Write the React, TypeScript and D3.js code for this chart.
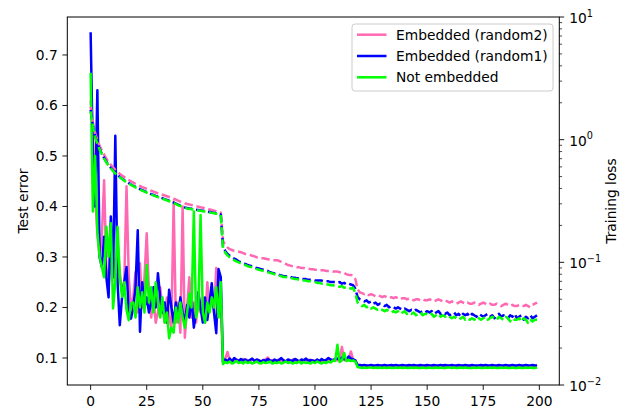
import React from "react";
import * as d3 from "d3";

// ---- DATA (rows of 10 epochs) ----
const seriesLabels = ["Embedded (random2)", "Embedded (random1)", "Not embedded"];
const xTicks = [0, 25, 50, 75, 100, 125, 150, 175, 200];
const leftTicks = [0.1, 0.2, 0.3, 0.4, 0.5, 0.6, 0.7];
const rightTicks = [-2, -1, 0, 1];

// Test error (solid, left axis)
const errR2 = [
  0.61,0.55,0.42,0.347,0.30,0.34,0.452,0.28,0.24,0.31,
  0.30,0.25,0.33,0.27,0.23,0.25,0.44,0.26,0.20,0.22,
  0.27,0.19,0.2875,0.20,0.26,0.347,0.23,0.18,0.22,0.17,
  0.19,0.24,0.20,0.17,0.22,0.18,0.16,0.41,0.17,0.21,
  0.15,0.40,0.14,0.20,0.26,0.18,0.21,0.17,0.23,0.19,
  0.22,0.17,0.25,0.20,0.23,0.19,0.278,0.21,0.20,0.093,
  0.098,0.112,0.094,0.096,0.093,0.097,0.095,0.094,0.098,0.095,
  0.096,0.093,0.097,0.095,0.094,0.096,0.093,0.095,0.097,0.101,
  0.094,0.096,0.093,0.095,0.097,0.094,0.096,0.093,0.095,0.094,
  0.097,0.094,0.095,0.093,0.096,0.094,0.095,0.097,0.093,0.095,
  0.094,0.096,0.093,0.095,0.094,0.096,0.095,0.094,0.097,0.095,
  0.096,0.095,0.122,0.096,0.095,0.098,0.113,0.097,0.095,0.085,
  0.085,0.084,0.085,0.084,0.084,0.085,0.084,0.084,0.085,0.084,
  0.084,0.085,0.084,0.084,0.085,0.084,0.085,0.084,0.084,0.085,
  0.084,0.084,0.085,0.084,0.085,0.084,0.084,0.085,0.084,0.084,
  0.085,0.084,0.084,0.085,0.084,0.084,0.085,0.084,0.085,0.084,
  0.084,0.085,0.084,0.084,0.085,0.084,0.084,0.085,0.084,0.084,
  0.085,0.084,0.084,0.084,0.085,0.084,0.085,0.084,0.084,0.085,
  0.084,0.084,0.085,0.084,0.084,0.085,0.084,0.084,0.085,0.084,
  0.084,0.085,0.084,0.084,0.085,0.084,0.084,0.085,0.084,0.084,
];
const errR1 = [
  0.745,0.50,0.40,0.63,0.30,0.28,0.34,0.26,0.22,0.38,
  0.26,0.54,0.25,0.165,0.22,0.25,0.28,0.19,0.178,0.20,
  0.24,0.353,0.152,0.25,0.20,0.22,0.19,0.21,0.24,0.20,
  0.268,0.22,0.19,0.21,0.17,0.235,0.20,0.17,0.21,0.18,
  0.22,0.19,0.17,0.205,0.18,0.22,0.16,0.19,0.23,0.20,
  0.17,0.22,0.175,0.21,0.248,0.19,0.149,0.276,0.26,0.092,
  0.097,0.094,0.099,0.093,0.100,0.096,0.094,0.098,0.095,0.097,
  0.093,0.096,0.099,0.094,0.097,0.095,0.093,0.096,0.094,0.098,
  0.095,0.093,0.097,0.094,0.096,0.100,0.095,0.093,0.097,0.095,
  0.094,0.098,0.096,0.093,0.097,0.095,0.099,0.094,0.096,0.095,
  0.093,0.097,0.094,0.098,0.095,0.096,0.100,0.097,0.095,0.098,
  0.099,0.096,0.101,0.098,0.097,0.103,0.099,0.097,0.095,0.086,
  0.086,0.085,0.086,0.085,0.085,0.086,0.085,0.085,0.086,0.085,
  0.085,0.086,0.085,0.085,0.086,0.085,0.086,0.085,0.085,0.086,
  0.085,0.085,0.086,0.085,0.086,0.085,0.085,0.086,0.085,0.085,
  0.086,0.085,0.085,0.086,0.085,0.085,0.086,0.085,0.086,0.085,
  0.085,0.086,0.085,0.085,0.086,0.085,0.085,0.086,0.085,0.085,
  0.086,0.085,0.085,0.085,0.086,0.085,0.086,0.085,0.085,0.086,
  0.085,0.085,0.086,0.085,0.085,0.086,0.085,0.085,0.086,0.085,
  0.085,0.086,0.085,0.085,0.086,0.085,0.085,0.086,0.085,0.085,
];
const errNE = [
  0.665,0.39,0.50,0.35,0.30,0.28,0.26,0.36,0.30,0.367,
  0.198,0.25,0.36,0.26,0.221,0.25,0.195,0.175,0.208,0.21,
  0.18,0.24,0.20,0.23,0.19,0.284,0.21,0.24,0.19,0.25,
  0.21,0.18,0.22,0.17,0.19,0.139,0.16,0.15,0.20,0.17,
  0.21,0.18,0.16,0.19,0.227,0.20,0.39,0.18,0.20,0.383,
  0.19,0.17,0.21,0.19,0.22,0.20,0.24,0.18,0.25,0.088,
  0.092,0.090,0.093,0.089,0.091,0.094,0.090,0.092,0.089,0.093,
  0.090,0.092,0.089,0.091,0.093,0.090,0.089,0.092,0.090,0.091,
  0.093,0.089,0.091,0.090,0.092,0.089,0.091,0.093,0.090,0.092,
  0.089,0.091,0.090,0.093,0.089,0.092,0.090,0.091,0.089,0.092,
  0.090,0.093,0.091,0.089,0.092,0.090,0.093,0.091,0.095,0.094,
  0.126,0.092,0.095,0.110,0.094,0.096,0.094,0.095,0.093,0.082,
  0.081,0.080,0.081,0.080,0.081,0.081,0.080,0.081,0.080,0.081,
  0.080,0.081,0.080,0.081,0.080,0.080,0.081,0.080,0.081,0.080,
  0.081,0.080,0.080,0.081,0.080,0.081,0.080,0.080,0.081,0.080,
  0.080,0.081,0.080,0.080,0.081,0.080,0.081,0.080,0.080,0.081,
  0.081,0.080,0.081,0.080,0.080,0.081,0.080,0.081,0.080,0.080,
  0.080,0.081,0.080,0.081,0.080,0.080,0.081,0.080,0.081,0.080,
  0.081,0.080,0.080,0.081,0.080,0.081,0.080,0.080,0.081,0.080,
  0.080,0.081,0.080,0.080,0.081,0.080,0.081,0.080,0.080,0.081,
];

// Training loss (dashed, right log axis)
const lossR2 = [
  1.85,1.38,1.13,1.00,0.89,0.82,0.755,0.70,0.66,0.625,
  0.595,0.568,0.546,0.527,0.51,0.495,0.481,0.469,0.457,0.447,
  0.437,0.428,0.419,0.411,0.404,0.397,0.39,0.383,0.377,0.371,
  0.366,0.361,0.356,0.351,0.346,0.341,0.336,0.33,0.324,0.318,
  0.313,0.308,0.303,0.299,0.296,0.293,0.29,0.287,0.284,0.281,
  0.279,0.276,0.273,0.27,0.267,0.264,0.261,0.258,0.255,0.15,
  0.138,0.132,0.128,0.126,0.124,0.123,0.122,0.121,0.119,0.117,
  0.116,0.115,0.113,0.112,0.11,0.109,0.108,0.108,0.107,0.106,
  0.105,0.105,0.104,0.104,0.103,0.101,0.099,0.097,0.095,0.094,
  0.093,0.092,0.091,0.091,0.090,0.090,0.089,0.089,0.088,0.088,
  0.087,0.087,0.086,0.086,0.086,0.085,0.085,0.085,0.084,0.084,
  0.084,0.083,0.083,0.082,0.080,0.079,0.079,0.078,0.073,0.060,
  0.057,0.056,0.055,0.056,0.054,0.055,0.054,0.053,0.054,0.053,
  0.052,0.053,0.052,0.051,0.052,0.051,0.052,0.051,0.050,0.051,
  0.051,0.050,0.051,0.050,0.049,0.050,0.050,0.049,0.050,0.049,
  0.049,0.050,0.049,0.048,0.049,0.050,0.049,0.048,0.049,0.048,
  0.047,0.048,0.047,0.046,0.047,0.048,0.047,0.046,0.047,0.046,
  0.046,0.047,0.046,0.045,0.046,0.047,0.046,0.045,0.046,0.045,
  0.045,0.046,0.045,0.044,0.045,0.046,0.045,0.044,0.045,0.044,
  0.044,0.045,0.044,0.044,0.045,0.044,0.043,0.045,0.046,0.047,
];
const lossR1 = [
  1.75,1.30,1.07,0.94,0.84,0.77,0.71,0.66,0.62,0.59,
  0.56,0.535,0.515,0.497,0.481,0.467,0.454,0.442,0.431,0.421,
  0.412,0.403,0.395,0.387,0.380,0.373,0.366,0.360,0.354,0.348,
  0.343,0.338,0.333,0.328,0.323,0.318,0.313,0.307,0.301,0.295,
  0.290,0.285,0.280,0.277,0.275,0.273,0.271,0.269,0.267,0.265,
  0.263,0.261,0.259,0.257,0.255,0.253,0.251,0.249,0.246,0.135,
  0.124,0.117,0.113,0.110,0.107,0.105,0.102,0.100,0.098,0.097,
  0.095,0.094,0.093,0.091,0.090,0.089,0.088,0.087,0.086,0.085,
  0.083,0.082,0.081,0.080,0.079,0.078,0.077,0.077,0.076,0.076,
  0.075,0.075,0.074,0.074,0.073,0.073,0.073,0.072,0.072,0.072,
  0.071,0.071,0.071,0.071,0.070,0.070,0.070,0.069,0.069,0.069,
  0.068,0.069,0.067,0.068,0.066,0.067,0.066,0.065,0.061,0.052,
  0.050,0.049,0.048,0.049,0.047,0.048,0.046,0.047,0.045,0.046,
  0.045,0.044,0.045,0.043,0.044,0.043,0.042,0.043,0.042,0.041,
  0.042,0.041,0.040,0.041,0.040,0.041,0.040,0.039,0.040,0.039,
  0.040,0.039,0.040,0.038,0.039,0.040,0.038,0.039,0.038,0.039,
  0.037,0.038,0.039,0.037,0.038,0.036,0.038,0.037,0.038,0.036,
  0.038,0.037,0.036,0.038,0.037,0.036,0.037,0.038,0.036,0.037,
  0.035,0.037,0.038,0.036,0.037,0.036,0.035,0.037,0.036,0.038,
  0.035,0.036,0.037,0.034,0.036,0.035,0.037,0.035,0.036,0.037,
];
const lossNE = [
  1.70,1.28,1.05,0.93,0.83,0.76,0.70,0.655,0.615,0.585,
  0.555,0.53,0.51,0.493,0.478,0.463,0.45,0.439,0.428,0.418,
  0.409,0.40,0.392,0.384,0.377,0.37,0.363,0.357,0.351,0.345,
  0.34,0.335,0.33,0.325,0.32,0.315,0.31,0.304,0.298,0.292,
  0.287,0.282,0.278,0.275,0.273,0.271,0.269,0.267,0.265,0.263,
  0.261,0.259,0.257,0.255,0.253,0.251,0.249,0.247,0.244,0.130,
  0.120,0.114,0.110,0.107,0.104,0.102,0.100,0.098,0.096,0.095,
  0.093,0.092,0.091,0.089,0.088,0.087,0.086,0.085,0.084,0.083,
  0.082,0.081,0.080,0.079,0.078,0.077,0.076,0.076,0.075,0.074,
  0.074,0.073,0.073,0.072,0.072,0.071,0.071,0.070,0.070,0.069,
  0.069,0.068,0.068,0.067,0.067,0.066,0.066,0.065,0.065,0.064,
  0.064,0.063,0.064,0.062,0.063,0.062,0.061,0.062,0.056,0.047,
  0.045,0.044,0.045,0.043,0.044,0.042,0.043,0.042,0.041,0.042,
  0.041,0.040,0.041,0.040,0.039,0.040,0.039,0.040,0.038,0.039,
  0.040,0.038,0.039,0.038,0.039,0.037,0.038,0.039,0.037,0.038,
  0.038,0.037,0.038,0.036,0.037,0.038,0.036,0.037,0.036,0.037,
  0.036,0.035,0.036,0.035,0.034,0.035,0.036,0.034,0.035,0.034,
  0.035,0.034,0.036,0.035,0.034,0.035,0.036,0.034,0.035,0.036,
  0.035,0.034,0.036,0.035,0.034,0.036,0.035,0.033,0.035,0.034,
  0.034,0.035,0.033,0.035,0.034,0.032,0.034,0.033,0.034,0.034,
];

const colors = ["#ff69b4", "#0000ff", "#00ff00"];

export default function App() {
  const W = 629, H = 409;
  const L = 67.3, R = 559.3, T = 17, B = 385;
  const font = "'DejaVu Sans', sans-serif";
  const fs = 13.8;

  const x = d3.scaleLinear().domain([-10.4, 208.9]).range([L, R]);
  const yL = d3.scaleLinear().domain([0.0465, 0.7752]).range([B, T]);
  const yR = d3.scaleLog().domain([0.01, 10]).range([B, T]);

  const lineL = d3.line<number>().x((_, i) => x(i)).y((d) => yL(d));
  const lineR = d3.line<number>().x((_, i) => x(i)).y((d) => yR(d));

  const errs = [errR2, errR1, errNE];
  const losses = [lossR2, lossR1, lossNE];

  const minor: number[] = [];
  [-2, -1, 0].forEach((p) => {
    for (let k = 2; k <= 9; k++) minor.push(k * Math.pow(10, p));
  });

  const expLabel = (p: number) => (p < 0 ? "\u2212" + Math.abs(p) : String(p));

  return (
    <svg width={W} height={H} style={{ position: "absolute", left: 0, top: 0, background: "#fff" }}>
      <rect x={0} y={0} width={W} height={H} fill="#fff" />
      <defs>
        <clipPath id="plotclip">
          <rect x={L} y={T} width={R - L} height={B - T} />
        </clipPath>
      </defs>
      <g clipPath="url(#plotclip)">
        {errs.map((s, i) => (
          <path key={"e" + i} d={lineL(s) || ""} fill="none" stroke={colors[i]} strokeWidth={2.5} strokeLinejoin="round" />
        ))}
        {losses.map((s, i) => (
          <path key={"l" + i} d={lineR(s) || ""} fill="none" stroke={colors[i]} strokeWidth={2.5} strokeDasharray="8.5,3.7" strokeLinejoin="round" />
        ))}
      </g>
      {/* frame */}
      <rect x={L} y={T} width={R - L} height={B - T} fill="none" stroke="#000" strokeWidth={1} />

      {/* x axis */}
      {xTicks.map((t) => (
        <g key={"x" + t}>
          <line x1={x(t)} x2={x(t)} y1={B} y2={B + 4.9} stroke="#000" strokeWidth={0.9} />
          <text x={x(t)} y={B + 21} textAnchor="middle" fontFamily={font} fontSize={fs} fill="#000">{t}</text>
        </g>
      ))}

      {/* left axis */}
      {leftTicks.map((t) => (
        <g key={"yl" + t}>
          <line x1={L - 4.9} x2={L} y1={yL(t)} y2={yL(t)} stroke="#000" strokeWidth={0.9} />
          <text x={L - 9.5} y={yL(t) + 5} textAnchor="end" fontFamily={font} fontSize={fs} fill="#000">{t.toFixed(1)}</text>
        </g>
      ))}
      <text transform={`translate(27.5,${(T + B) / 2}) rotate(-90)`} textAnchor="middle" fontFamily={font} fontSize={fs} fill="#000">Test error</text>

      {/* right axis */}
      {minor.map((v, i) => (
        <line key={"m" + i} x1={R} x2={R + 2.8} y1={yR(v)} y2={yR(v)} stroke="#000" strokeWidth={0.7} />
      ))}
      {rightTicks.map((p) => (
        <g key={"yr" + p}>
          <line x1={R} x2={R + 4.9} y1={yR(Math.pow(10, p))} y2={yR(Math.pow(10, p))} stroke="#000" strokeWidth={0.9} />
          <text x={R + 10} y={yR(Math.pow(10, p)) + 6} fontFamily={font} fontSize={fs} fill="#000">
            10
            <tspan dy={-6.5} fontSize={9.7}>{expLabel(p)}</tspan>
          </text>
        </g>
      ))}
      <text transform={`translate(616,${(T + B) / 2}) rotate(-90)`} textAnchor="middle" fontFamily={font} fontSize={fs} fill="#000">Training loss</text>

      {/* legend */}
      <rect x={352} y={24} width={201} height={67} rx={3} fill="#fff" fillOpacity={0.8} stroke="#cccccc" strokeWidth={1} />
      {seriesLabels.map((lab, i) => {
        const cy = 34.7 + i * 21.3;
        return (
          <g key={"lg" + i}>
            <line x1={357} x2={386.5} y1={cy} y2={cy} stroke={colors[i]} strokeWidth={2.5} />
            <text x={396} y={cy + 5} fontFamily={font} fontSize={fs} fill="#000">{lab}</text>
          </g>
        );
      })}
    </svg>
  );
}
